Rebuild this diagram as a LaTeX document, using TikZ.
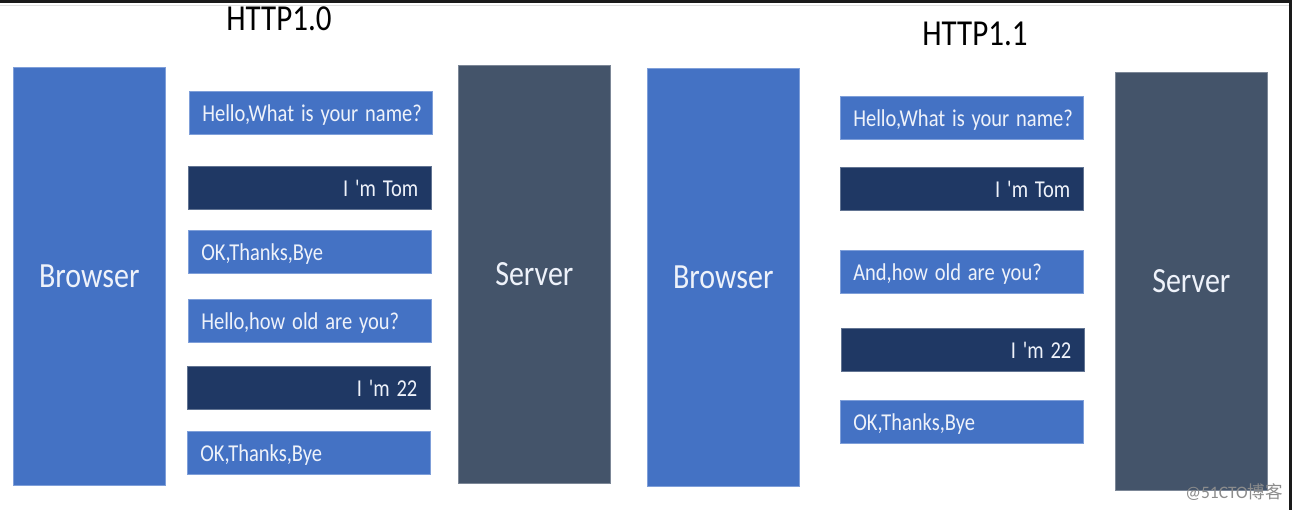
\documentclass[tikz,border=0pt]{standalone}
\usepackage{fontspec}
\setmainfont{Carlito}
\newfontfamily\cjkfont{Noto Sans CJK SC}
\definecolor{lightbox}{HTML}{4472C4}
\definecolor{lightedge}{HTML}{7F9FD9}
\definecolor{darkbox}{HTML}{1F3864}
\definecolor{serverbox}{HTML}{44546A}
\definecolor{boxtext}{HTML}{EEF2FA}
\definecolor{frameline}{HTML}{1A1A1A}
\newcommand\tallt[1]{\scalebox{1}[1.18]{#1}}
\newcommand\apos{\textquotesingle}
\begin{document}
\begin{tikzpicture}[x=1pt,y=-1pt,
  msg/.style={rectangle, draw=lightedge, line width=0.6pt, anchor=north west,
    minimum width=243pt, minimum height=43pt, inner xsep=13pt, inner ysep=0pt,
    text width=217pt, text height=20pt, text depth=2pt, text=boxtext,
    font=\fontsize{20.5}{22}\selectfont},
  req/.style={msg, fill=lightbox, align=left},
  resp/.style={msg, fill=darkbox, draw=darkbox!70!white, align=right},
  bigbox/.style={rectangle, anchor=north west, minimum width=152pt, minimum height=418pt,
    inner sep=0pt, text=boxtext, font=\fontsize{30}{32}\selectfont},
  browserbox/.style={bigbox, fill=lightbox, draw=lightedge, line width=0.6pt},
  serverbox/.style={bigbox, fill=serverbox, draw=serverbox!70!white, line width=0.6pt},
  title/.style={font=\fontsize{31}{33}\selectfont, text=black, inner sep=0pt}
]
\useasboundingbox (0,0) rectangle (1292,510);
\fill[white] (0,0) rectangle (1292,510);
\fill[frameline] (0,0) rectangle (1292,3);
\fill[frameline] (1289,0) rectangle (1292,510);
\draw[black!12, line width=0.8pt] (0,5.5) -- (1289,5.5);

% HTTP1.0
\node[title] (t10) at (279,18.5) {\tallt{HTTP1.0}};
\node[browserbox] (b10) at (13,67) {\tallt{Browser}};
\node[serverbox] (s10) at (458,65) {\tallt{Server}};
\node[req]  (m1) at (189,91)  {\tallt{Hello,What is your name?}};
\node[resp] (m2) at (188,166) {\tallt{I \apos m Tom}};
\node[req]  (m3) at (188,230) {\tallt{OK,Thanks,Bye}};
\node[req]  (m4) at (188,299) {\tallt{Hello,how old are you?}};
\node[resp] (m5) at (187,366) {\tallt{I \apos m 22}};
\node[req]  (m6) at (187,431) {\tallt{OK,Thanks,Bye}};

% HTTP1.1
\node[title] (t11) at (975,33.5) {\tallt{HTTP1.1}};
\node[browserbox] (b11) at (647,68) {\tallt{Browser}};
\node[serverbox] (s11) at (1115,72) {\tallt{Server}};
\node[req]  (n1) at (840,96)  {\tallt{Hello,What is your name?}};
\node[resp] (n2) at (840,167) {\tallt{I \apos m Tom}};
\node[req]  (n3) at (840,250) {\tallt{And,how old are you?}};
\node[resp] (n4) at (841,328) {\tallt{I \apos m 22}};
\node[req]  (n5) at (840,400) {\tallt{OK,Thanks,Bye}};

% watermark
\node[anchor=east, inner sep=0pt, text=black!45, font=\fontsize{17.5}{18}\selectfont] (wm) at (1283,492) {@51CTO{\cjkfont 博客}};
\end{tikzpicture}
\end{document}
